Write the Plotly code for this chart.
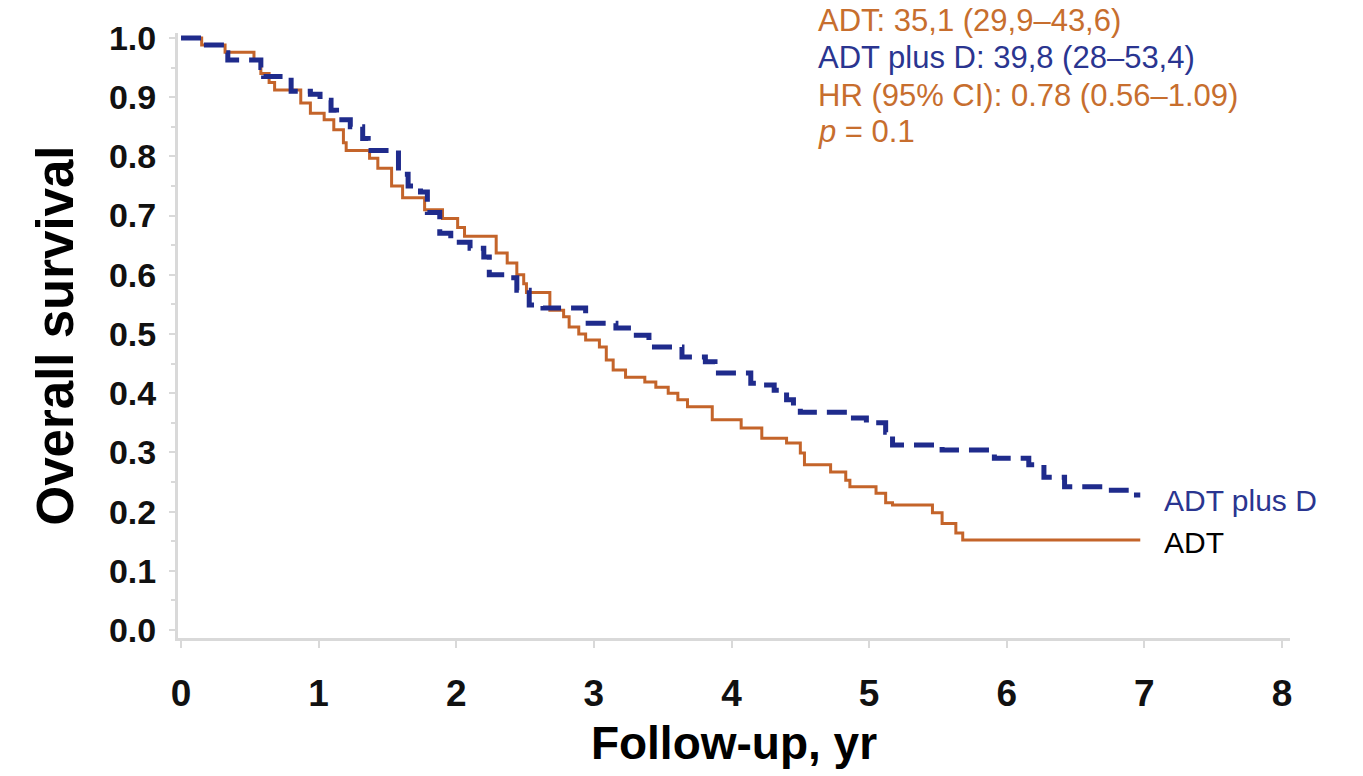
import plotly.graph_objects as go

# ---- data ----
adt_years = [0, 0.15, 0.32, 0.53, 0.58, 0.64, 0.68, 0.87, 0.94, 1.04, 1.11, 1.18, 1.20,
             1.37, 1.43, 1.53, 1.61, 1.77, 1.90, 2.01, 2.06, 2.29, 2.37, 2.44, 2.49,
             2.51, 2.68, 2.78, 2.82, 2.89, 2.94, 3.04, 3.09, 3.14, 3.23, 3.37, 3.45,
             3.54, 3.61, 3.68, 3.86, 4.07, 4.22, 4.40, 4.50, 4.53, 4.72, 4.83, 4.86,
             5.05, 5.12, 5.17, 5.46, 5.53, 5.63, 5.68, 6.97]
adt_surv = [1.0, 0.988, 0.976, 0.963, 0.94, 0.925, 0.912, 0.89, 0.873, 0.862, 0.845, 0.823, 0.81,
            0.797, 0.78, 0.75, 0.73, 0.71, 0.695, 0.68, 0.665, 0.637, 0.62, 0.60, 0.585,
            0.57, 0.54, 0.529, 0.512, 0.50, 0.49, 0.478, 0.456, 0.439, 0.427, 0.419, 0.41,
            0.40, 0.389, 0.377, 0.355, 0.341, 0.324, 0.316, 0.299, 0.279, 0.267, 0.253, 0.242,
            0.231, 0.215, 0.211, 0.198, 0.18, 0.164, 0.152, 0.152]

adtd_years = [0, 0.15, 0.32, 0.34, 0.58, 0.60, 0.80, 0.94, 1.01, 1.09, 1.13, 1.23, 1.32,
              1.36, 1.58, 1.65, 1.74, 1.79, 1.88, 1.96, 2.10, 2.20, 2.24, 2.35, 2.44,
              2.53, 2.63, 2.94, 3.16, 3.28, 3.40, 3.64, 3.81, 3.88, 4.14, 4.19, 4.31,
              4.40, 4.45, 4.50, 4.86, 4.98, 5.12, 5.17, 5.53, 5.91, 6.16, 6.27, 6.42,
              6.76, 6.90, 6.97]
adtd_surv = [1.0, 0.988, 0.975, 0.963, 0.95, 0.935, 0.91, 0.905, 0.895, 0.878, 0.862, 0.85, 0.83,
             0.81, 0.77, 0.75, 0.74, 0.705, 0.67, 0.655, 0.645, 0.63, 0.60, 0.595, 0.574,
             0.549, 0.544, 0.518, 0.51, 0.498, 0.478, 0.461, 0.453, 0.434, 0.417, 0.414, 0.405,
             0.389, 0.377, 0.368, 0.358, 0.35, 0.334, 0.3125, 0.304, 0.29, 0.279, 0.258, 0.242,
             0.236, 0.228, 0.228]

x_ticks = [0, 1, 2, 3, 4, 5, 6, 7, 8]
y_ticks = [0.0, 0.1, 0.2, 0.3, 0.4, 0.5, 0.6, 0.7, 0.8, 0.9, 1.0]
y_tick_text = ["0.0", "0.1", "0.2", "0.3", "0.4", "0.5", "0.6", "0.7", "0.8", "0.9", "1.0"]

stats_lines = ["ADT: 35,1 (29,9\u201343,6)",
               "ADT plus D: 39,8 (28\u201353,4)",
               "HR (95% CI): 0.78 (0.56\u20131.09)",
               "<i>p</i> = 0.1"]
series_names = ["ADT plus D", "ADT"]

ORANGE = "#C4642A"
BLUE = "#1F2B8C"
TXT_ORANGE = "#C76E2E"
TXT_BLUE = "#2A3590"
AXIS = "#D9D9D9"
FONT = "Liberation Sans, Arial, sans-serif"

fig = go.Figure()
fig.add_trace(go.Scatter(x=adt_years, y=adt_surv, mode="lines", line_shape="hv",
                         line=dict(color=ORANGE, width=3), name=series_names[1],
                         showlegend=False))
fig.add_trace(go.Scatter(x=adtd_years, y=adtd_surv, mode="lines", line_shape="hv",
                         line=dict(color=BLUE, width=5, dash="20px,10px"),
                         name=series_names[0], showlegend=False))

W, H = 1363, 776
ml, mr, mt, mb = 178, 73, 33, 138
fig.update_layout(
    width=W, height=H,
    margin=dict(l=ml, r=mr, t=mt, b=mb),
    paper_bgcolor="white", plot_bgcolor="white",
    font=dict(family=FONT, color="black"),
    xaxis=dict(range=[-0.022, 8.058], tickvals=x_ticks,
               ticktext=["<b>%d</b>" % v for v in x_ticks],
               showline=True, linecolor=AXIS, linewidth=3, showgrid=False, zeroline=False,
               ticks="outside", tickcolor=AXIS, ticklen=7, tickwidth=2,
               tickfont=dict(size=37, color="#111111", family=FONT),
               ticklabelstandoff=14,
               title=dict(text="<b>Follow-up, yr</b>", font=dict(size=46, family=FONT),
                          standoff=14)),
    yaxis=dict(range=[-0.0135, 1.0084], tickvals=y_ticks,
               ticktext=["<b>%s</b>" % t for t in y_tick_text],
               showline=True, linecolor=AXIS, linewidth=3, showgrid=False, zeroline=False,
               ticks="outside", tickcolor=AXIS, ticklen=6, tickwidth=2,
               minor=dict(dtick=0.05, ticks="outside", ticklen=4, tickcolor=AXIS, tickwidth=2),
               tickfont=dict(size=34, color="#111111", family=FONT),
               ticklabelstandoff=6,
               title=dict(text="<b>Overall survival</b>", font=dict(size=51, family=FONT),
                          standoff=20)),
)

# stats text block (top right)
line_y_px = [21, 58, 95, 132]
line_colors = [TXT_ORANGE, TXT_BLUE, TXT_ORANGE, TXT_ORANGE]
for txt, ypx, col in zip(stats_lines, line_y_px, line_colors):
    fig.add_annotation(x=(816 - ml) / (W - ml - mr), xref="paper",
                       y=1 - (ypx - mt) / (H - mt - mb), yref="paper",
                       text=txt, showarrow=False, xanchor="left", yanchor="middle",
                       font=dict(size=31, color=col, family=FONT))

# end-of-curve labels
fig.add_annotation(x=adtd_years[-1], y=adtd_surv[-1], xref="x", yref="y",
                   text=series_names[0], showarrow=False, xanchor="left", yanchor="middle",
                   xshift=22, yshift=-5, font=dict(size=30, color=TXT_BLUE, family=FONT))
fig.add_annotation(x=adt_years[-1], y=adt_surv[-1], xref="x", yref="y",
                   text=series_names[1], showarrow=False, xanchor="left", yanchor="middle",
                   xshift=22, yshift=-2, font=dict(size=30, color="black", family=FONT))

fig.write_html("out.html")
